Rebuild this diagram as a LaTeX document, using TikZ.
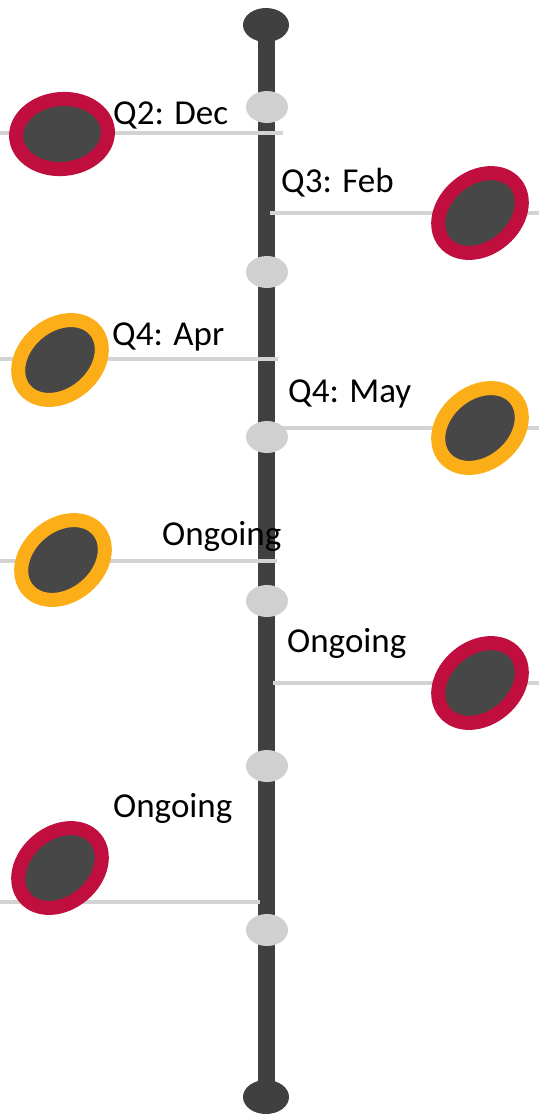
\documentclass[tikz,border=0pt]{standalone}
\usepackage{fontspec}
\setmainfont{Carlito}
\usetikzlibrary{shapes.geometric}
\definecolor{ringred}{RGB}{192,14,63}
\definecolor{ringorange}{RGB}{251,174,23}
\definecolor{darkfill}{RGB}{71,71,71}
\definecolor{barcol}{RGB}{64,64,64}
\definecolor{knob}{RGB}{208,208,208}
\definecolor{hline}{RGB}{211,211,211}
\tikzset{
  ring/.style={ellipse, inner sep=0pt, outer sep=0pt, minimum width=92pt, minimum height=70pt, fill=darkfill, line width=14pt},
  redring/.style={ring, draw=ringred},
  orangering/.style={ring, draw=ringorange},
  knobnode/.style={ellipse, inner sep=0pt, outer sep=0pt, minimum width=42pt, minimum height=32pt, fill=knob},
  endnode/.style={ellipse, inner sep=0pt, outer sep=0pt, minimum width=46pt, minimum height=34pt, fill=barcol},
  guide/.style={draw=hline, line width=3.5pt},
  lbl/.style={anchor=base west, inner sep=0pt, font=\fontsize{35}{42}\selectfont, text=black},
  barline/.style={draw=barcol, line width=17pt}
}
\begin{document}
\begin{tikzpicture}[x=1pt,y=-1pt]
\useasboundingbox (0,0) rectangle (539,1114);
% bar
\node[endnode] (top) at (266,25) {};
\node[endnode] (bot) at (266,1097) {};
\draw[barline] (top.center) -- (bot.center);
% horizontal guides
\coordinate (g1a) at (0,133);   \coordinate (g1b) at (283,133);
\coordinate (g2a) at (270,213); \coordinate (g2b) at (539,213);
\coordinate (g3a) at (0,359);   \coordinate (g3b) at (278,359);
\coordinate (g4a) at (267,428); \coordinate (g4b) at (539,428);
\coordinate (g5a) at (0,561);   \coordinate (g5b) at (277,561);
\coordinate (g6a) at (273,683); \coordinate (g6b) at (539,683);
\coordinate (g7a) at (0,902);   \coordinate (g7b) at (260,902);
\foreach \i in {1,...,7} {\draw[guide] (g\i a) -- (g\i b);}
% knobs
\node[knobnode] (k1) at (267,107) {};
\node[knobnode] (k2) at (267,272) {};
\node[knobnode] (k3) at (267,437) {};
\node[knobnode] (k4) at (267,601) {};
\node[knobnode] (k5) at (267,766) {};
\node[knobnode] (k6) at (267,930) {};
% rings
\node[redring, rotate=5] (r1) at (62,134) {};
\node[redring, rotate=40] (r2) at (480,213) {};
\node[orangering, rotate=40] (r3) at (60,360) {};
\node[orangering, rotate=40] (r4) at (480,428) {};
\node[orangering, rotate=40] (r5) at (63,560) {};
\node[redring, rotate=40] (r6) at (480,683) {};
\node[redring, rotate=40] (r7) at (60,868) {};
% labels
\node[lbl] (t1) at (113,124) {Q2: Dec};
\node[lbl] (t2) at (281,192) {Q3: Feb};
\node[lbl] (t3) at (112,345) {Q4: Apr};
\node[lbl] (t4) at (288,402) {Q4: May};
\node[lbl] (t5) at (162,545) {Ongoing};
\node[lbl] (t6) at (287,652) {Ongoing};
\node[lbl] (t7) at (113,817) {Ongoing};
\end{tikzpicture}
\end{document}
